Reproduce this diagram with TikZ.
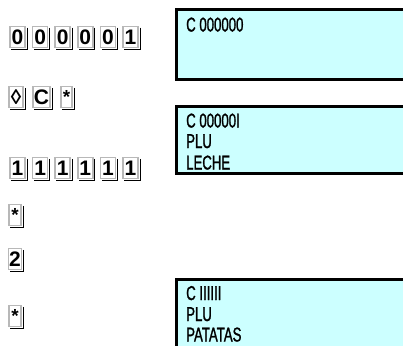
\documentclass[tikz,border=0pt]{standalone}
\usepackage{fontspec}
\newfontfamily\keyfont{Liberation Sans}[Scale=2.1]
\newfontfamily\lcdfont{Liberation Sans}[FakeStretch=0.66,FakeBold=1.2,Scale=2.0]
\definecolor{lcdcyan}{HTML}{CCFFFF}
\tikzset{
  key/.style={draw=black!28, line width=1.5pt, fill=white, minimum width=15pt,
    minimum height=21pt, inner sep=0pt, font=\keyfont\bfseries},
  keysh/.style={draw=black, line width=1pt},
  lcd/.style={draw=black, line width=3pt, fill=lcdcyan},
  lcdtext/.style={anchor=base west, inner sep=0pt, font=\lcdfont},
}
\newcommand\kshadow[1]{\draw[keysh] ([xshift=1.3pt,yshift=-2pt]#1.north east) -- ([xshift=1.3pt,yshift=-1.3pt]#1.south east) -- ([xshift=2pt,yshift=-1.3pt]#1.south west);}
\newcommand\astk{\raisebox{-0.3ex}{\small *}}
\begin{document}
\begin{tikzpicture}[x=1pt,y=-1pt]
\useasboundingbox (0,0) rectangle (403,345);
% LCD displays
\draw[lcd] (176,10) rectangle (412,79);
\draw[lcd] (176,106) rectangle (412,173);
\draw[lcd] (176,279) rectangle (412,352);
\node[lcdtext] (t1) at (186,31.5) {C 000000};
\node[lcdtext] (t2a) at (186,127.5) {C 00000I};
\node[lcdtext] (t2b) at (186,148) {PLU};
\node[lcdtext] (t2c) at (186,169.5) {LECHE};
\node[lcdtext] (t3a) at (186,300) {C IIIIII};
\node[lcdtext] (t3b) at (186,321) {PLU};
\node[lcdtext] (t3c) at (186,341.5) {PATATAS};
% key rows
\foreach \i/\d in {1/0,2/0,3/0,4/0,5/0,6/1} {
  \node[key] (a\i) at ({17.5+22.6*(\i-1)},37) {\d};
  \kshadow{a\i}
}
\node[key, minimum width=14pt] (b1) at (16,97) {◊};
\kshadow{b1}
\node[key, minimum width=17pt] (b2) at (41.5,97) {C};
\kshadow{b2}
\node[key, minimum width=11pt] (b3) at (66.5,97) {\astk};
\kshadow{b3}
\foreach \i in {1,...,6} {
  \node[key] (c\i) at ({17.5+22.6*(\i-1)},168) {1};
  \kshadow{c\i}
}
\node[key, minimum width=12pt] (d) at (15,215) {\astk};
\kshadow{d}
\node[key, minimum width=13pt] (e) at (15,259) {2};
\kshadow{e}
\node[key, minimum width=12pt] (f) at (15,316) {\astk};
\kshadow{f}
\end{tikzpicture}
\end{document}
